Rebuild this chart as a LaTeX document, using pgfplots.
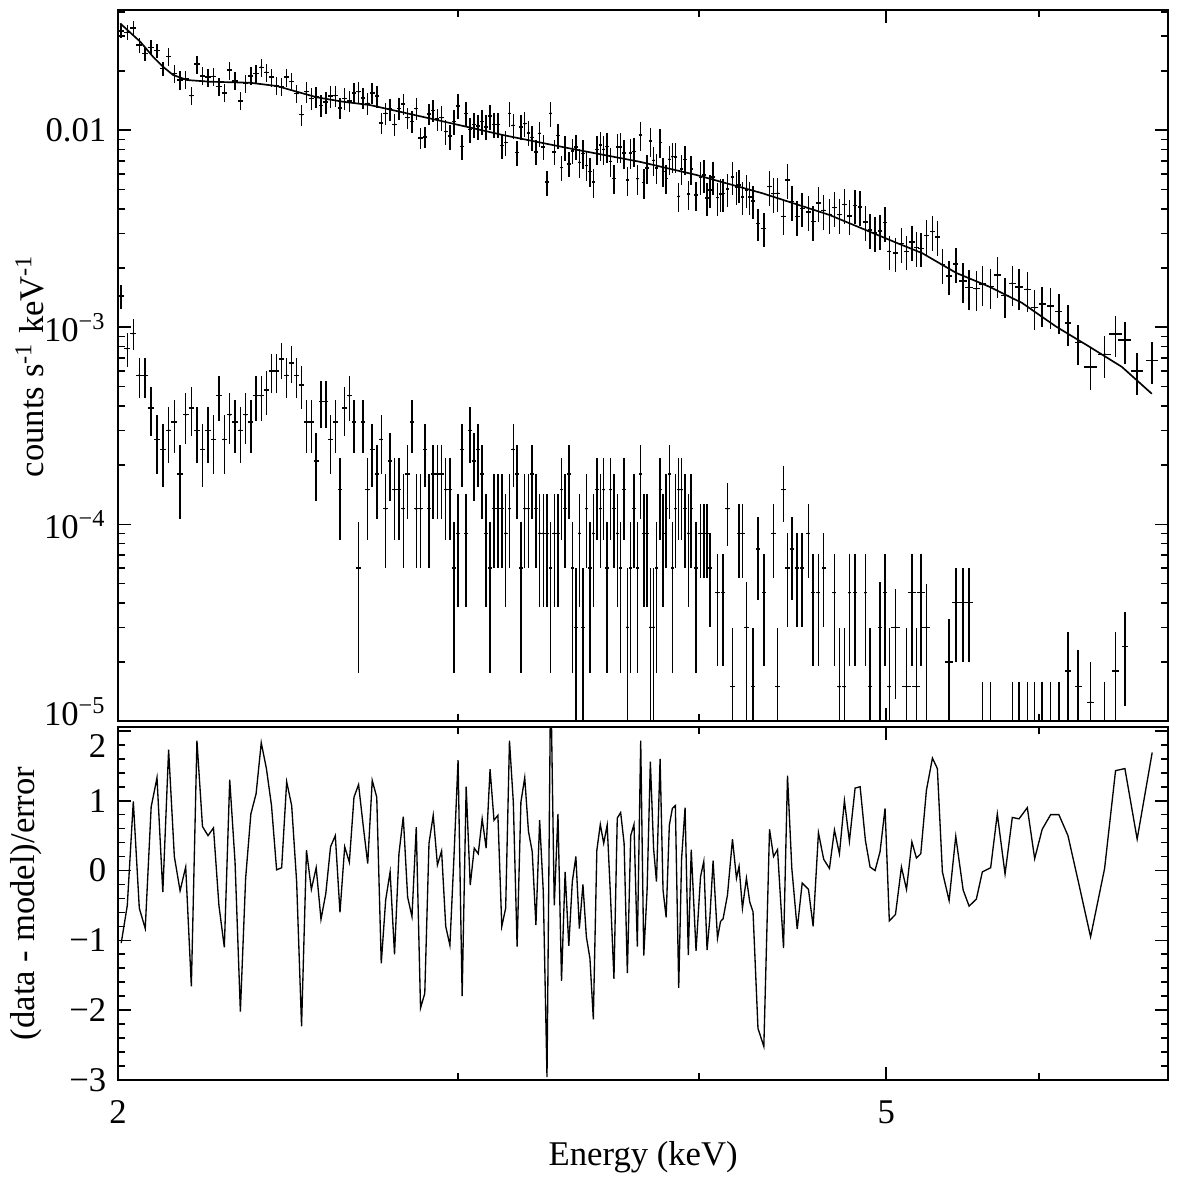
\documentclass[border=0pt]{standalone}
\usepackage{fontspec}
\setmainfont{Liberation Serif}
\usepackage{pgfplots}
\pgfplotsset{compat=1.18}
\pgfplotsset{
  srcA/.style={only marks, mark=*, mark size=0.1pt, mark options={draw=none, fill=none},
    error bars/x dir=both, error bars/y dir=both,
    error bars/error mark=none, error bars/error bar style={draw=black, line width=0.45pt}},
}
\begin{document}
\begin{tikzpicture}[font=\fontsize{10.4}{12.5}\selectfont]
\path[use as bounding box] (0,0) rectangle (354.6pt,354.6pt);
% ---------------- upper panel ----------------
\begin{axis}[scale only axis, width=315.1pt, height=213.4pt,
  at={(35.4pt,138.2pt)}, anchor=south west,
  xmode=log, xmin=2, xmax=7,
  ymode=log, ymin=1e-5, ymax=0.0408,
  tick pos=both, tick align=inside,
  major tick length=3.9pt, minor tick length=2.1pt,
  axis line style={line width=0.6pt},
  every tick/.append style={line width=0.5pt, black},
  xtick={2,5}, minor xtick={3,4,6,7},
  xticklabels={},
  ytick={1e-5,1e-4,1e-3,1e-2},
  yticklabels={\raisebox{-1.2pt}[0pt][0pt]{10\textsuperscript{−5}},10\textsuperscript{−4},10\textsuperscript{−3},0.01},
  minor ytick={2e-5,3e-5,4e-5,5e-5,6e-5,7e-5,8e-5,9e-5,2e-4,3e-4,4e-4,5e-4,6e-4,7e-4,8e-4,9e-4,2e-3,3e-3,4e-3,5e-3,6e-3,7e-3,8e-3,9e-3,0.02,0.03,0.04},
  ylabel={counts s\textsuperscript{-1} keV\textsuperscript{-1}},
  ylabel style={at={(axis description cs:-0.084,0.5)}, anchor=center}]
% model
\addplot[black, line width=0.5pt] table[row sep=\\] {
x y\\
2.005 0.0349\\ 2.0534 0.0282\\ 2.0854 0.0236\\ 2.1104 0.0210\\ 2.1357 0.0191\\
2.1716 0.0180\\ 2.2318 0.01765\\ 2.3407 0.01744\\ 2.4173 0.01678\\ 2.4755 0.0157\\
2.5352 0.01471\\ 2.6149 0.01397\\ 2.7005 0.01344\\ 2.9255 0.01128\\ 3.1643 0.00947\\
3.4260 0.0081\\ 3.7251 0.00693\\ 3.9886 0.00593\\ 4.3139 0.00479\\ 4.6722 0.00372\\
5.0592 0.00269\\ 5.2185 0.00238\\ 5.4341 0.00189\\ 5.6522 0.00161\\ 5.8789 0.00133\\
6.1216 0.00101\\ 6.3670 0.0008\\ 6.6222 0.00063\\ 6.8634 0.00046\\
};
% source data
\addplot[srcA, error bars/x fixed=0.0073, error bars/y fixed relative=0.085] table[row sep=\\] {
x y\\
2.0075 0.0320\\ 2.0221 0.0314\\ 2.0367 0.0331\\ 2.0513 0.0271\\ 2.0659 0.0245\\
2.0805 0.0264\\ 2.0951 0.0254\\ 2.1097 0.0206\\
};
\addplot[srcA, error bars/x fixed=0.0073, error bars/y fixed relative=0.105] table[row sep=\\] {
x y\\
2.1243 0.0237\\ 2.1389 0.0194\\ 2.1535 0.0180\\ 2.1681 0.0182\\ 2.1827 0.0150\\
2.1973 0.0217\\ 2.2119 0.0189\\ 2.2265 0.0186\\ 2.2411 0.0188\\ 2.2557 0.0167\\
2.2703 0.0155\\ 2.2849 0.0202\\ 2.2995 0.0178\\ 2.3141 0.0141\\ 2.3287 0.0173\\
2.3433 0.0189\\ 2.3579 0.0194\\ 2.3725 0.0209\\ 2.3871 0.0197\\ 2.4017 0.0186\\
2.4163 0.0168\\ 2.4309 0.0166\\ 2.4455 0.0186\\ 2.4601 0.0177\\ 2.4747 0.0154\\
};
\addplot[srcA, error bars/x fixed=0.0073, error bars/y fixed relative=0.125] table[row sep=\\] {
x y\\
2.4893 0.0120\\ 2.5039 0.0157\\ 2.5185 0.0145\\ 2.5331 0.0148\\ 2.5477 0.0134\\
2.5623 0.0139\\ 2.5769 0.0149\\ 2.5915 0.0150\\ 2.6061 0.0130\\ 2.6207 0.0145\\
2.6353 0.0141\\ 2.6499 0.0155\\ 2.6645 0.0157\\ 2.6791 0.0146\\ 2.6937 0.0137\\
2.7083 0.0155\\ 2.7229 0.0149\\ 2.7375 0.0109\\ 2.7521 0.0122\\ 2.7667 0.0128\\
2.7813 0.0107\\ 2.7959 0.0129\\ 2.8105 0.0136\\ 2.8251 0.0116\\ 2.8397 0.0111\\
2.8543 0.0129\\ 2.8689 0.00914\\ 2.8835 0.00927\\ 2.8981 0.0121\\ 2.9127 0.0126\\
2.9273 0.0114\\
};
\addplot[srcA, error bars/x fixed=0.0073, error bars/y fixed relative=0.145] table[row sep=\\] {
x y\\
2.9419 0.0116\\ 2.9565 0.00984\\ 2.9711 0.00934\\ 2.9857 0.0111\\ 3.0003 0.0133\\
3.0149 0.00827\\ 3.0295 0.0122\\ 3.0441 0.0101\\ 3.0587 0.0107\\ 3.0733 0.0105\\
3.0879 0.0111\\ 3.1025 0.0104\\ 3.1171 0.0118\\ 3.1317 0.0107\\ 3.1463 0.0107\\
3.1609 0.00838\\ 3.1755 0.00867\\ 3.1901 0.0122\\ 3.2047 0.0106\\ 3.2193 0.0077\\
3.2339 0.0104\\ 3.2485 0.0108\\ 3.2631 0.00969\\ 3.2777 0.00922\\ 3.2923 0.00776\\
3.3069 0.00966\\ 3.3215 0.00825\\ 3.3361 0.00546\\ 3.3507 0.0122\\ 3.3653 0.00776\\
3.3799 0.00939\\ 3.3945 0.00647\\ 3.4091 0.00817\\ 3.4237 0.00675\\ 3.4383 0.00786\\
3.4529 0.00825\\
};
\addplot[srcA, error bars/x fixed=0.0073, error bars/y fixed relative=0.17] table[row sep=\\] {
x y\\
3.4675 0.00688\\ 3.4821 0.00763\\ 3.4967 0.00663\\ 3.5113 0.00619\\ 3.5259 0.00547\\
3.5405 0.00801\\ 3.5551 0.0084\\ 3.5697 0.00801\\ 3.5843 0.00827\\ 3.5989 0.00696\\
3.6135 0.0057\\ 3.6281 0.00821\\ 3.6427 0.00825\\ 3.6573 0.00766\\ 3.6719 0.00559\\
3.6865 0.00768\\ 3.7011 0.00781\\ 3.7157 0.00568\\ 3.7310 0.00947\\ 3.7442 0.00542\\
3.7593 0.00644\\ 3.7739 0.00881\\ 3.7886 0.00704\\ 3.8019 0.00645\\ 3.8180 0.00868\\
3.8318 0.00619\\ 3.8455 0.0057\\ 3.8607 0.00713\\ 3.8745 0.00735\\ 3.8883 0.00734\\
3.9037 0.00462\\ 3.9176 0.00638\\ 3.9335 0.00713\\ 3.9489 0.00474\\ 3.9630 0.00635\\
3.9853 0.00469\\
};
\addplot[srcA, error bars/x fixed=0.009, error bars/y fixed relative=0.19] table[row sep=\\] {
x y\\
4.0062 0.00577\\ 4.0219 0.00595\\ 4.0376 0.00454\\ 4.0509 0.00497\\ 4.0668 0.00581\\
4.0882 0.00455\\ 4.1029 0.00476\\ 4.1156 0.00477\\ 4.1372 0.00505\\ 4.1619 0.00578\\
4.1818 0.00515\\ 4.1947 0.00527\\ 4.2117 0.0046\\ 4.2318 0.00497\\ 4.2485 0.00458\\
4.2652 0.00438\\ 4.2905 0.00337\\
};
\addplot[srcA, error bars/x fixed=0.013, error bars/y fixed relative=0.2] table[row sep=\\] {
x y\\
4.3206 0.00318\\ 4.3500 0.00518\\ 4.3708 0.00477\\ 4.3917 0.00479\\ 4.4231 0.00366\\
4.4443 0.00559\\ 4.4671 0.00434\\ 4.4960 0.00365\\ 4.5227 0.00402\\ 4.5567 0.00386\\
4.5823 0.00344\\ 4.6113 0.00428\\ 4.6404 0.00392\\ 4.6722 0.00374\\ 4.7001 0.00405\\
4.7282 0.00373\\ 4.7564 0.0042\\ 4.7848 0.00368\\ 4.8174 0.00416\\ 4.8462 0.00409\\
4.8769 0.00343\\ 4.9042 0.00312\\ 4.9335 0.00302\\ 4.9629 0.00309\\ 4.9925 0.0034\\
5.0181 0.00243\\
};
\addplot[srcA, error bars/x fixed=0.017, error bars/y fixed relative=0.2] table[row sep=\\] {
x y\\
5.055 0.00238\\ 5.091 0.00266\\ 5.122 0.00243\\ 5.155 0.00271\\ 5.183 0.00254\\
5.210 0.00252\\ 5.245 0.00292\\ 5.283 0.00306\\ 5.314 0.00288\\ 5.346 0.00208\\
5.389 0.00182\\ 5.432 0.0021\\
};
\addplot[srcA, error bars/x fixed=0.025, error bars/y fixed relative=0.23] table[row sep=\\] {
x y\\
5.480 0.00172\\ 5.519 0.00159\\ 5.567 0.00157\\ 5.607 0.00166\\ 5.663 0.00161\\
5.708 0.00184\\ 5.761 0.00145\\ 5.811 0.00167\\ 5.858 0.0016\\ 5.916 0.00156\\
5.968 0.00126\\ 6.022 0.00131\\ 6.083 0.00128\\ 6.143 0.0012\\ 6.210 0.00105\\
6.286 0.00084\\
};
\addplot[srcA, error bars/x fixed=0.05, error bars/y fixed relative=0.24] table[row sep=\\] {
x y\\
6.380 0.00063\\ 6.487 0.00073\\ 6.573 0.000925\\ 6.646 0.00086\\ 6.744 0.0006\\
6.866 0.00068\\
};
% background data
\addplot[srcA, error bars/x fixed=0.0073, error bars/y explicit] table[row sep=\\, y error=e] {
x y e\\
2.0075 1.44e-3 2.08e-4\\ 2.0221 7.8e-4 1.53e-4\\ 2.0367 9.3e-4 1.67e-4\\
2.0513 5.7e-4 1.31e-4\\ 2.0659 5.7e-4 1.31e-4\\ 2.0805 3.9e-4 1.08e-4\\
2.0951 2.7e-4 9e-5\\ 2.1097 2.4e-4 8.49e-5\\ 2.1243 3e-4 9.49e-5\\
2.1389 3.3e-4 9.95e-5\\ 2.1535 1.8e-4 7.35e-5\\ 2.1681 3.6e-4 1.04e-4\\
2.1827 3.9e-4 1.08e-4\\ 2.1973 3e-4 9.49e-5\\ 2.2119 2.4e-4 8.49e-5\\
2.2265 3e-4 9.49e-5\\ 2.2411 2.7e-4 9e-5\\ 2.2557 4.5e-4 1.16e-4\\
2.2703 2.7e-4 9e-5\\ 2.2849 3.6e-4 1.04e-4\\ 2.2995 3.3e-4 9.95e-5\\
2.3141 3e-4 9.49e-5\\ 2.3287 3.6e-4 1.04e-4\\ 2.3433 3.3e-4 9.95e-5\\
2.3579 4.5e-4 1.16e-4\\ 2.3725 4.5e-4 1.16e-4\\ 2.3871 4.8e-4 1.2e-4\\
2.4017 6e-4 1.34e-4\\ 2.4163 6e-4 1.34e-4\\ 2.4309 6.9e-4 1.44e-4\\
2.4455 5.7e-4 1.31e-4\\ 2.4601 6.6e-4 1.41e-4\\ 2.4747 5.7e-4 1.31e-4\\
2.4893 5.1e-4 1.24e-4\\ 2.5039 3.3e-4 9.95e-5\\ 2.5185 3.3e-4 9.95e-5\\
2.5331 2.1e-4 7.94e-5\\ 2.5477 4.2e-4 1.12e-4\\ 2.5623 4.2e-4 1.12e-4\\
2.5769 2.7e-4 9e-5\\ 2.5915 3.3e-4 9.95e-5\\ 2.6061 1.5e-4 6.7e-5\\
2.6207 3.9e-4 1.08e-4\\ 2.6353 4.5e-4 1.16e-4\\ 2.6499 3.3e-4 9.95e-5\\
2.6645 6e-5 4.24e-5\\ 2.6791 3.3e-4 9.95e-5\\ 2.6937 1.5e-4 6.7e-5\\
2.7083 2.4e-4 8.49e-5\\ 2.7229 1.8e-4 7.35e-5\\ 2.7375 2.7e-4 9e-5\\
2.7521 1.2e-4 6e-5\\ 2.7667 2.1e-4 7.94e-5\\ 2.7813 1.5e-4 6.7e-5\\
2.7959 1.5e-4 6.7e-5\\ 2.8105 1.2e-4 6e-5\\ 2.8251 1.8e-4 7.35e-5\\
2.8397 3.3e-4 9.95e-5\\ 2.8543 1.2e-4 6e-5\\ 2.8689 1.2e-4 6e-5\\
2.8835 2.4e-4 8.49e-5\\ 2.8981 1.2e-4 6e-5\\ 2.9127 1.8e-4 7.35e-5\\
2.9273 1.8e-4 7.35e-5\\ 2.9419 1.8e-4 7.35e-5\\ 2.9565 1.5e-4 6.7e-5\\
2.9711 1.5e-4 6.7e-5\\ 2.9857 6e-5 4.24e-5\\ 3.0003 9e-5 5.2e-5\\
3.0149 2.4e-4 8.49e-5\\ 3.0295 9e-5 5.2e-5\\ 3.0441 3e-4 9.49e-5\\
3.0587 2.1e-4 7.94e-5\\ 3.0733 2.4e-4 8.49e-5\\ 3.0879 1.8e-4 7.35e-5\\
3.1025 9e-5 5.2e-5\\ 3.1171 6e-5 4.24e-5\\ 3.1317 1.2e-4 6e-5\\
3.1463 1.2e-4 6e-5\\ 3.1609 1.2e-4 6e-5\\ 3.1755 9e-5 5.2e-5\\
3.1901 1.2e-4 6e-5\\ 3.2047 2.4e-4 8.49e-5\\ 3.2193 1.8e-4 7.35e-5\\
3.2339 6e-5 4.24e-5\\ 3.2485 1.2e-4 6e-5\\ 3.2631 1.2e-4 6e-5\\
3.2777 1.8e-4 7.35e-5\\ 3.2923 1.2e-4 6e-5\\ 3.3069 9e-5 5.2e-5\\
3.3215 9e-5 5.2e-5\\ 3.3361 9e-5 5.2e-5\\ 3.3507 6e-5 4.24e-5\\
3.3653 9e-5 5.2e-5\\ 3.3799 9e-5 5.2e-5\\ 3.3945 1.5e-4 6.7e-5\\
3.4091 1.2e-4 6e-5\\ 3.4237 1.8e-4 7.35e-5\\ 3.4383 6e-5 4.24e-5\\
3.4529 3e-5 2.97e-5\\ 3.4675 9e-5 5.2e-5\\ 3.4821 3e-5 2.97e-5\\
3.4967 1.2e-4 6e-5\\ 3.5113 6e-5 4.24e-5\\ 3.5259 9e-5 5.2e-5\\
3.5405 1.5e-4 6.7e-5\\ 3.5551 1.2e-4 6e-5\\ 3.5697 1.5e-4 6.7e-5\\
3.5843 6e-5 4.24e-5\\ 3.5989 1.5e-4 6.7e-5\\ 3.6135 1.2e-4 6e-5\\
3.6281 9e-5 5.2e-5\\ 3.6427 6e-5 4.24e-5\\ 3.6573 1.5e-4 6.7e-5\\
3.6719 3e-5 2.97e-5\\ 3.6865 6e-5 4.24e-5\\ 3.7011 1.2e-4 6e-5\\
3.7157 6e-5 4.24e-5\\ 3.7310 1.8e-4 7.35e-5\\ 3.7442 9e-5 5.2e-5\\
3.7593 9e-5 5.2e-5\\ 3.7739 3e-5 2.97e-5\\ 3.7886 3e-5 2.97e-5\\
3.8019 6e-5 4.24e-5\\ 3.8180 1.5e-4 6.7e-5\\ 3.8318 9e-5 5.2e-5\\
3.8455 1.2e-4 6e-5\\ 3.8607 1.8e-4 7.35e-5\\ 3.8745 6e-5 4.24e-5\\
3.8883 1.2e-4 6e-5\\ 3.9037 1.5e-4 6.7e-5\\ 3.9176 1.5e-4 6.7e-5\\
3.9335 1.2e-4 6e-5\\ 3.9489 9e-5 5.2e-5\\ 3.9630 1.2e-4 6e-5\\
3.9853 6e-5 4.24e-5\\
};
\addplot[srcA, error bars/x fixed=0.011, error bars/y explicit] table[row sep=\\, y error=e] {
x y e\\
4.0062 9e-5 3.67e-5\\ 4.0219 9e-5 3.67e-5\\ 4.0376 9e-5 3.67e-5\\
4.0509 6e-5 3e-5\\ 4.0882 4.5e-5 2.6e-5\\ 4.1156 4.5e-5 2.6e-5\\
4.1372 1.2e-4 4.24e-5\\ 4.1619 1.5e-5 1.47e-5\\ 4.1947 9e-5 3.67e-5\\
4.2117 9e-5 3.67e-5\\ 4.2318 3e-5 2.1e-5\\ 4.2652 1.5e-5 1.47e-5\\
4.2905 7.5e-5 3.35e-5\\ 4.3206 4.5e-5 2.6e-5\\ 4.3708 9e-5 3.67e-5\\
4.3917 1.5e-5 1.47e-5\\ 4.4231 1.5e-4 4.74e-5\\ 4.4443 6e-5 3e-5\\
4.4671 7.5e-5 3.35e-5\\ 4.4960 6e-5 3e-5\\ 4.5227 6e-5 3e-5\\
4.5567 9e-5 3.67e-5\\ 4.5823 4.5e-5 2.6e-5\\ 4.6113 4.5e-5 2.6e-5\\
4.6404 6e-5 3e-5\\ 4.7001 4.5e-5 2.6e-5\\ 4.7282 1.5e-5 1.47e-5\\
4.7564 1.5e-5 1.47e-5\\ 4.7848 4.5e-5 2.6e-5\\ 4.8174 4.5e-5 2.6e-5\\
4.8769 4.5e-5 2.6e-5\\ 4.9042 1.5e-5 1.47e-5\\ 4.9629 3e-5 2.1e-5\\
4.9925 4.5e-5 2.6e-5\\ 5.0181 1.5e-5 1.47e-5\\
};
\addplot[srcA, error bars/x fixed=0.025, error bars/y explicit] table[row sep=\\, y error=e] {
x y e\\
5.055 3e-5 1.7e-5\\ 5.122 1.5e-5 1.47e-5\\ 5.155 4.5e-5 2.6e-5\\
5.183 1.5e-5 1.47e-5\\ 5.210 4.5e-5 2.6e-5\\ 5.245 3e-5 2e-5\\
5.389 2e-5 1.3e-5\\ 5.432 4e-5 2e-5\\ 5.480 4e-5 2e-5\\
5.519 4e-5 2e-5\\ 5.607 8e-6 7.9e-6\\ 5.663 8e-6 7.9e-6\\
5.811 8e-6 7.9e-6\\ 5.858 8e-6 7.9e-6\\ 5.916 8e-6 7.9e-6\\
5.968 8e-6 7.9e-6\\ 6.022 8e-6 7.9e-6\\ 6.083 8e-6 7.9e-6\\
6.143 8e-6 7.9e-6\\ 6.210 1.8e-5 1.05e-5\\ 6.286 1.5e-5 0.8e-5\\
6.380 1.25e-5 0.75e-5\\ 6.487 8e-6 7.9e-6\\ 6.573 1.8e-5 1.05e-5\\
6.646 2.4e-5 1.2e-5\\
};
\end{axis}
% ---------------- residual panel ----------------
\begin{axis}[scale only axis, width=315.1pt, height=106pt,
  at={(35.4pt,30.6pt)}, anchor=south west,
  xmode=log, xmin=2, xmax=7,
  ymin=-3, ymax=2.06,
  tick pos=both, tick align=inside,
  major tick length=3.9pt, minor tick length=2.1pt,
  axis line style={line width=0.6pt},
  every tick/.append style={line width=0.5pt, black},
  xtick={2,5}, minor xtick={3,4,6,7},
  xticklabels={2,5},
  xticklabel style={yshift=-2.6pt},
  ytick={-3,-2,-1,0,1,2},
  yticklabels={−3,−2,−1,0,1,\raisebox{-8pt}[0pt][0pt]{2}},
  minor y tick num=4,
  xlabel={Energy (keV)},
  xlabel style={at={(axis description cs:0.5,-0.218)}, anchor=center},
  ylabel={(data - model)/error},
  ylabel style={at={(axis description cs:-0.087,0.5)}, anchor=center}]
\addplot[black, line width=0.4pt] table[row sep=\\] {
x y\\
2.0075 -1.04\\ 2.0221 -0.50\\ 2.0367 0.99\\ 2.0513 -0.54\\ 2.0659 -0.83\\
2.0805 0.91\\ 2.0951 1.33\\ 2.1097 -0.31\\ 2.1243 1.73\\ 2.1389 0.20\\
2.1535 -0.29\\ 2.1681 0.05\\ 2.1827 -1.66\\ 2.1973 1.86\\ 2.2119 0.63\\
2.2265 0.50\\ 2.2411 0.61\\ 2.2557 -0.50\\ 2.2703 -1.10\\ 2.2849 1.30\\
2.2995 0.12\\ 2.3141 -2.02\\ 2.3287 -0.11\\ 2.3433 0.81\\ 2.3579 1.10\\
2.3725 1.83\\ 2.3871 1.46\\ 2.4017 0.93\\ 2.4163 0.01\\ 2.4309 0.04\\
2.4455 1.27\\ 2.4601 0.93\\ 2.4747 -0.16\\ 2.4893 -2.23\\ 2.5039 0.29\\
2.5185 -0.27\\ 2.5331 0.04\\ 2.5477 -0.70\\ 2.5623 -0.33\\ 2.5769 0.34\\
2.5915 0.50\\ 2.6061 -0.60\\ 2.6207 0.34\\ 2.6353 0.12\\ 2.6499 1.05\\
2.6645 1.23\\ 2.6791 0.65\\ 2.6937 0.10\\ 2.7083 1.29\\ 2.7229 1.05\\
2.7375 -1.33\\ 2.7521 -0.42\\ 2.7667 -0.02\\ 2.7813 -1.20\\ 2.7959 0.24\\
2.8105 0.77\\ 2.8251 -0.38\\ 2.8397 -0.66\\ 2.8543 0.62\\ 2.8689 -1.97\\
2.8835 -1.76\\ 2.8981 0.39\\ 2.9127 0.79\\ 2.9273 0.08\\ 2.9419 0.28\\
2.9565 -0.80\\ 2.9711 -1.07\\ 2.9857 0.20\\ 3.0003 1.58\\ 3.0149 -1.80\\
3.0295 1.20\\ 3.0441 -0.21\\ 3.0587 0.32\\ 3.0733 0.24\\ 3.0879 0.74\\
3.1025 0.32\\ 3.1171 1.45\\ 3.1317 0.72\\ 3.1463 0.79\\ 3.1609 -0.80\\
3.1755 -0.54\\ 3.1901 1.86\\ 3.2047 0.98\\ 3.2193 -1.09\\ 3.2339 0.98\\
3.2485 1.33\\ 3.2631 0.56\\ 3.2777 0.27\\ 3.2923 -0.78\\ 3.3069 0.72\\
3.3215 -0.30\\ 3.3361 -2.96\\ 3.3507 2.85\\ 3.3653 -0.50\\ 3.3799 0.81\\
3.3945 -1.58\\ 3.4091 -0.02\\ 3.4237 -1.08\\ 3.4383 -0.16\\ 3.4529 0.20\\
3.4675 -0.83\\ 3.4821 -0.20\\ 3.4967 -0.95\\ 3.5113 -1.26\\ 3.5259 -2.13\\
3.5405 0.29\\ 3.5551 0.66\\ 3.5697 0.39\\ 3.5843 0.65\\ 3.5989 -0.38\\
3.6135 -1.55\\ 3.6281 0.75\\ 3.6427 0.83\\ 3.6573 0.39\\ 3.6719 -1.47\\
3.6865 0.50\\ 3.7011 0.66\\ 3.7157 -1.09\\ 3.7310 1.86\\ 3.7442 -1.22\\
3.7593 -0.30\\ 3.7739 1.56\\ 3.7886 0.31\\ 3.8019 -0.16\\ 3.8180 1.60\\
3.8318 -0.28\\ 3.8455 -0.67\\ 3.8607 0.65\\ 3.8745 0.89\\ 3.8883 0.93\\
3.9037 -1.68\\ 3.9176 0.17\\ 3.9335 0.90\\ 3.9489 -1.21\\ 3.9630 0.30\\
3.9853 -1.15\\ 4.0062 -0.09\\ 4.0219 0.13\\ 4.0376 -1.14\\ 4.0509 -0.69\\
4.0668 0.14\\ 4.0882 -0.97\\ 4.1029 -0.73\\ 4.1156 -0.69\\ 4.1372 -0.35\\
4.1619 0.45\\ 4.1818 -0.11\\ 4.1947 0.06\\ 4.2117 -0.54\\ 4.2318 -0.11\\
4.2485 -0.45\\ 4.2652 -0.59\\ 4.2905 -2.26\\ 4.3206 -2.52\\ 4.3500 0.59\\
4.3708 0.20\\ 4.3917 0.30\\ 4.4231 -1.11\\ 4.4443 1.36\\ 4.4671 0.03\\
4.4960 -0.84\\ 4.5227 -0.18\\ 4.5567 -0.27\\ 4.5823 -0.80\\ 4.6113 0.54\\
4.6404 0.16\\ 4.6722 0.03\\ 4.7001 0.58\\ 4.7282 0.24\\ 4.7564 1.00\\
4.7848 0.42\\ 4.8174 1.18\\ 4.8462 1.20\\ 4.8769 0.43\\ 4.9042 0.05\\
4.9335 0.00\\ 4.9629 0.27\\ 4.9925 0.89\\ 5.0181 -0.72\\ 5.055 -0.63\\
5.091 0.05\\ 5.122 -0.27\\ 5.155 0.41\\ 5.183 0.18\\ 5.210 0.24\\
5.245 1.15\\ 5.283 1.61\\ 5.314 1.46\\ 5.346 -0.02\\ 5.389 -0.43\\
5.432 0.49\\ 5.480 -0.28\\ 5.519 -0.51\\ 5.567 -0.41\\ 5.607 -0.02\\
5.663 0.04\\ 5.708 0.81\\ 5.761 -0.05\\ 5.811 0.76\\ 5.858 0.74\\
5.916 0.90\\ 5.968 0.17\\ 6.022 0.59\\ 6.083 0.80\\ 6.143 0.80\\
6.210 0.50\\ 6.286 -0.15\\ 6.380 -0.95\\ 6.487 0.03\\ 6.573 1.43\\
6.646 1.46\\ 6.744 0.45\\ 6.866 1.69\\
};
\end{axis}
\end{tikzpicture}
\end{document}
